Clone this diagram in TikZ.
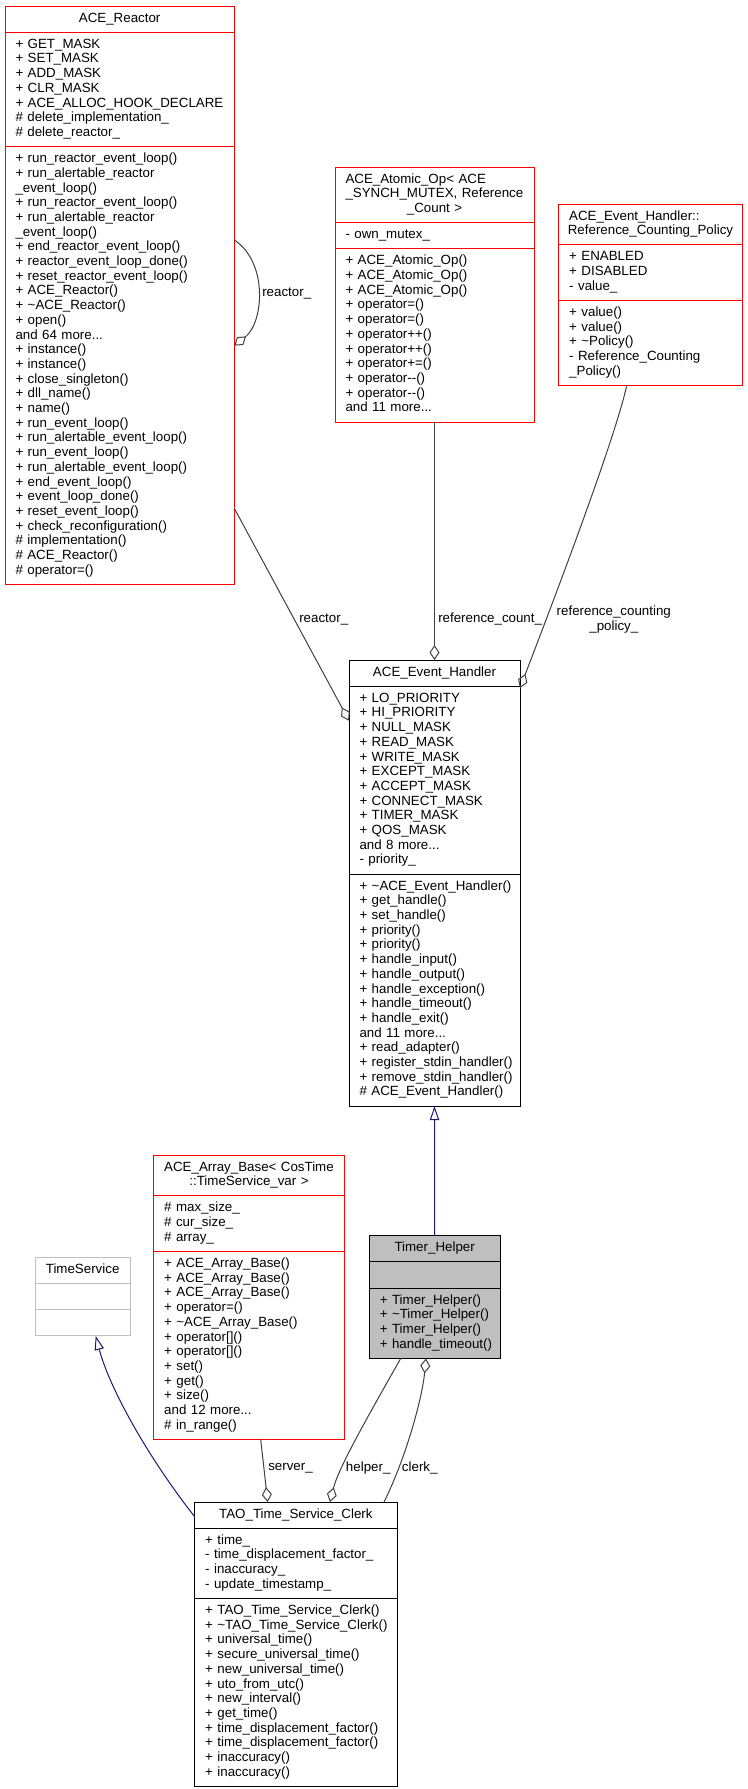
\documentclass[tikz,border=0pt]{standalone}
\usepackage{fontspec}
\setmainfont{Liberation Sans}
\usetikzlibrary{shapes.multipart,arrows.meta,calc}

\definecolor{edgegrey}{HTML}{404040}
\definecolor{boxgrey}{HTML}{BFBFBF}
\definecolor{navyblue}{HTML}{191970}

% one compartment of a class box, one row per line
\newcommand\fields[1]{\begin{tabular}[t]{@{}l@{}}#1\end{tabular}}
\newcommand\ctr[1]{\makebox[\linewidth]{#1}}

\tikzset{
  classbox/.style={rectangle split, rectangle split parts=3, draw, line width=0.75pt,
    anchor=north west, inner xsep=7.875pt, inner ysep=3.94pt, outer sep=0pt,
    text width={(#1-21)*0.75pt}, font=\fontsize{10}{11.025}\selectfont},
  redbox/.style={classbox=#1, draw=red},
  greybox/.style={classbox=#1, draw=boxgrey},
  edgelabel/.style={font=\fontsize{10}{11.025}\selectfont, inner sep=0pt},
  aggrline/.style={draw=edgegrey, line width=0.75pt, {Diamond[open, length=11.25pt, width=7.5pt]}-},
  inheritline/.style={draw=navyblue, line width=0.75pt, -{Triangle[open, length=10.5pt, width=7pt]}}
}

\begin{document}
\begin{tikzpicture}[x=0.75pt, y=-0.75pt]
\useasboundingbox (0,0) rectangle (748,1789);

% classes begin
\node[redbox=229.3] (reactor) at (5,6) {\fields{\ctr{ACE\_Reactor}}
  \nodepart{two}\fields{+ GET\_MASK\\+ SET\_MASK\\+ ADD\_MASK\\+ CLR\_MASK\\+ ACE\_ALLOC\_HOOK\_DECLARE\\\# delete\_implementation\_\\\# delete\_reactor\_}
  \nodepart{three}\fields{+ run\_reactor\_event\_loop()\\+ run\_alertable\_reactor\\\_event\_loop()\\+ run\_reactor\_event\_loop()\\+ run\_alertable\_reactor\\\_event\_loop()\\+ end\_reactor\_event\_loop()\\+ reactor\_event\_loop\_done()\\+ reset\_reactor\_event\_loop()\\+ ACE\_Reactor()\\+ \textasciitilde ACE\_Reactor()\\+ open()\\and 64 more...\\+ instance()\\+ instance()\\+ close\_singleton()\\+ dll\_name()\\+ name()\\+ run\_event\_loop()\\+ run\_alertable\_event\_loop()\\+ run\_event\_loop()\\+ run\_alertable\_event\_loop()\\+ end\_event\_loop()\\+ event\_loop\_done()\\+ reset\_event\_loop()\\+ check\_reconfiguration()\\\# implementation()\\\# ACE\_Reactor()\\\# operator=()}};

\node[redbox=199] (atomicop) at (335,167) {\fields{ACE\_Atomic\_Op< ACE\\\_SYNCH\_MUTEX, Reference\\\ctr{\_Count >}}
  \nodepart{two}\fields{- own\_mutex\_}
  \nodepart{three}\fields{+ ACE\_Atomic\_Op()\\+ ACE\_Atomic\_Op()\\+ ACE\_Atomic\_Op()\\+ operator=()\\+ operator=()\\+ operator++()\\+ operator++()\\+ operator+=()\\+ operator-{}-()\\+ operator-{}-()\\and 11 more...}};

\node[redbox=183.6] (policy) at (558.7,204) {\fields{ACE\_Event\_Handler::\\\ctr{Reference\_Counting\_Policy}}
  \nodepart{two}\fields{+ ENABLED\\+ DISABLED\\- value\_}
  \nodepart{three}\fields{+ value()\\+ value()\\+ \textasciitilde Policy()\\- Reference\_Counting\\\_Policy()}};

\node[classbox=171] (handler) at (349,660) {\fields{\ctr{ACE\_Event\_Handler}}
  \nodepart{two}\fields{+ LO\_PRIORITY\\+ HI\_PRIORITY\\+ NULL\_MASK\\+ READ\_MASK\\+ WRITE\_MASK\\+ EXCEPT\_MASK\\+ ACCEPT\_MASK\\+ CONNECT\_MASK\\+ TIMER\_MASK\\+ QOS\_MASK\\and 8 more...\\- priority\_}
  \nodepart{three}\fields{+ \textasciitilde ACE\_Event\_Handler()\\+ get\_handle()\\+ set\_handle()\\+ priority()\\+ priority()\\+ handle\_input()\\+ handle\_output()\\+ handle\_exception()\\+ handle\_timeout()\\+ handle\_exit()\\and 11 more...\\+ read\_adapter()\\+ register\_stdin\_handler()\\+ remove\_stdin\_handler()\\\# ACE\_Event\_Handler()}};

\node[redbox=190.6] (arraybase) at (153.7,1155) {\fields{ACE\_Array\_Base< CosTime\\\ctr{::TimeService\_var >}}
  \nodepart{two}\fields{\# max\_size\_\\\# cur\_size\_\\\# array\_}
  \nodepart{three}\fields{+ ACE\_Array\_Base()\\+ ACE\_Array\_Base()\\+ ACE\_Array\_Base()\\+ operator=()\\+ \textasciitilde ACE\_Array\_Base()\\+ operator[]()\\+ operator[]()\\+ set()\\+ get()\\+ size()\\and 12 more...\\\# in\_range()}};

\node[greybox=94.7] (timesvc) at (35.3,1257.3) {\fields{\ctr{TimeService}}
  \nodepart{two}\fields{\mbox{}}
  \nodepart{three}\fields{\mbox{}}};

\node[classbox=130.7, fill=boxgrey] (timerhelper) at (369.3,1235.7) {\fields{\ctr{Timer\_Helper}}
  \nodepart{two}\fields{\mbox{}}
  \nodepart{three}\fields{+ Timer\_Helper()\\+ \textasciitilde Timer\_Helper()\\+ Timer\_Helper()\\+ handle\_timeout()}};

\node[classbox=202.3] (clerk) at (194.7,1502) {\fields{\ctr{TAO\_Time\_Service\_Clerk}}
  \nodepart{two}\fields{+ time\_\\- time\_displacement\_factor\_\\- inaccuracy\_\\- update\_timestamp\_}
  \nodepart{three}\fields{+ TAO\_Time\_Service\_Clerk()\\+ \textasciitilde TAO\_Time\_Service\_Clerk()\\+ universal\_time()\\+ secure\_universal\_time()\\+ new\_universal\_time()\\+ uto\_from\_utc()\\+ new\_interval()\\+ get\_time()\\+ time\_displacement\_factor()\\+ time\_displacement\_factor()\\+ inaccuracy()\\+ inaccuracy()}};
% classes end

% members
\draw[aggrline] ($(reactor.north east)+(0,339.7)$) .. controls (264,322) and (268,262) .. ($(reactor.north east)+(0,234)$);
\draw[aggrline] ($(handler.north west)+(0,60.7)$) -- ($(reactor.north east)+(0,502.3)$);
\draw[aggrline] (handler.north) -- (atomicop.south);
\draw[aggrline] ($(handler.north east)+(0,28)$) .. controls (548,615) and (615,440) .. ($(policy.south west)+(68,0)$);
\draw[aggrline] ($(clerk.north west)+(73,0)$) -- ($(arraybase.south west)+(107,0)$);
\draw[aggrline] ($(clerk.north west)+(135.3,0)$) .. controls (338,1470) and (360,1430) .. ($(timerhelper.south west)+(31.4,0)$);
\draw[aggrline] ($(timerhelper.south west)+(56.7,0)$) .. controls (422,1400) and (405,1460) .. ($(clerk.north west)+(189.3,0)$);

% bases
\draw[inheritline] (timerhelper.north) -- (handler.south);
\draw[inheritline] ($(clerk.north west)+(0,14.7)$) .. controls (150,1460) and (110,1390) .. ($(timesvc.south west)+(60.4,0)$);

\node[edgelabel, anchor=west] (lblreactorself) at (262,293.3) {reactor\_};
\node[edgelabel, anchor=west] (lblreactor) at (299,619.3) {reactor\_};
\node[edgelabel, anchor=west] (lblrefcount) at (438,619.3) {reference\_count\_};
\node[edgelabel, align=center] (lblpolicy) at (613.8,619.7) {reference\_counting\\\_policy\_};
\node[edgelabel, anchor=west] (lblserver) at (268,1468.3) {server\_};
\node[edgelabel, anchor=west] (lblhelper) at (345.7,1468.3) {helper\_};
\node[edgelabel, anchor=west] (lblclerk) at (401.7,1468.3) {clerk\_};

\end{tikzpicture}
\end{document}
